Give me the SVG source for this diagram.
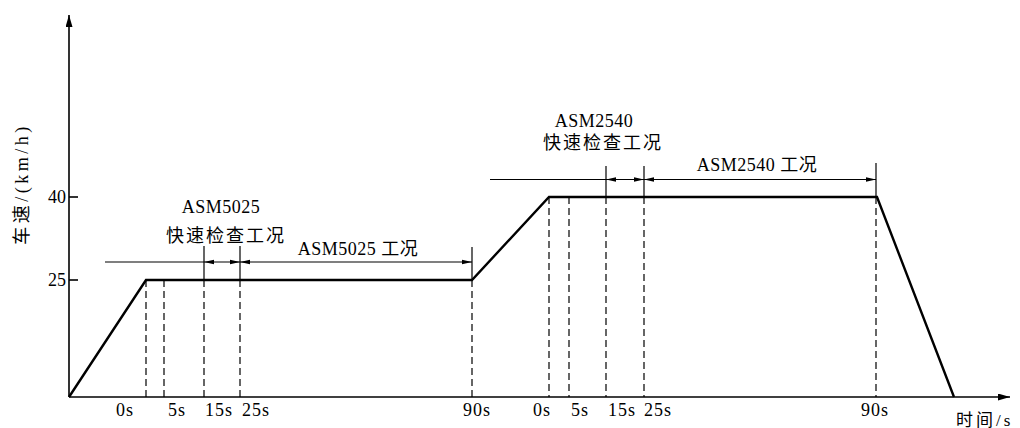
<svg xmlns="http://www.w3.org/2000/svg" width="1020" height="428" viewBox="0 0 1020 428">
<style>
.t{font-family:"Liberation Serif","Noto Sans CJK SC",serif;font-size:18px;fill:#000}
.c{font-family:"Liberation Serif","Noto Sans CJK SC",serif;font-size:18px;fill:#000}
.dash{stroke:#000;stroke-width:1.2;stroke-dasharray:7 4;fill:none}
.thin{stroke:#000;stroke-width:1.2;fill:none}
.prof{stroke:#000;stroke-width:2.4;fill:none;stroke-linejoin:miter}
.axis{stroke:#000;stroke-width:1.6;fill:none}
.dim{stroke:#000;stroke-width:1.2;fill:none;marker-start:url(#a);marker-end:url(#a)}
</style>
<defs>
<marker id="a" viewBox="0 0 10 6" refX="10" refY="3" markerWidth="10" markerHeight="6" markerUnits="userSpaceOnUse" orient="auto-start-reverse">
<path d="M0,0.8 L10,3 L0,5.2 Z" fill="#000"/>
</marker>
<marker id="ax" viewBox="0 0 12 7" refX="12" refY="3.5" markerWidth="12" markerHeight="7" markerUnits="userSpaceOnUse" orient="auto">
<path d="M0,0 L12,3.5 L0,7 Z" fill="#000"/>
</marker>
</defs>
<g id="axes">
<line class="axis" x1="69" y1="397" x2="69" y2="15" marker-end="url(#ax)"/>
<line class="axis" x1="69" y1="397" x2="1010" y2="397" marker-end="url(#ax)"/>
<line class="axis" x1="69" y1="197" x2="78" y2="197"/>
<line class="axis" x1="69" y1="280" x2="78" y2="280"/>
<text class="t" x="66" y="203" text-anchor="end">40</text>
<text class="t" x="66" y="286" text-anchor="end">25</text>
<text class="c" transform="translate(28,184) rotate(-90)" text-anchor="middle" letter-spacing="3.5">车速/(km/h)</text>
<text class="c" x="956" y="426" style="font-size:17px" letter-spacing="3">时间/s</text>
</g>
<g id="guides">
<line class="dash" x1="146" y1="280" x2="146" y2="397"/>
<line class="dash" x1="164" y1="280" x2="164" y2="397"/>
<line class="dash" x1="204" y1="280" x2="204" y2="397"/>
<line class="dash" x1="240" y1="280" x2="240" y2="397"/>
<line class="dash" x1="472" y1="280" x2="472" y2="397"/>
<line class="dash" x1="549" y1="197" x2="549" y2="397"/>
<line class="dash" x1="569" y1="197" x2="569" y2="397"/>
<line class="dash" x1="606" y1="197" x2="606" y2="397"/>
<line class="dash" x1="644" y1="197" x2="644" y2="397"/>
<line class="dash" x1="876" y1="197" x2="876" y2="397"/>
</g>
<g id="profile">
<polyline class="prof" points="69,397 146,280 472,280 549,197 877,197 954,397"/>
</g>
<g id="connectors">
<line class="thin" x1="204" y1="246" x2="204" y2="280"/>
<line class="thin" x1="240" y1="246" x2="240" y2="280"/>
<line class="thin" x1="472" y1="247" x2="472" y2="280"/>
<line class="thin" x1="105" y1="262" x2="204" y2="262"/>
<line class="dim" x1="204" y1="262" x2="240" y2="262"/>
<line class="dim" x1="240" y1="262" x2="472" y2="262"/>
<line class="thin" x1="606" y1="166" x2="606" y2="197"/>
<line class="thin" x1="644" y1="166" x2="644" y2="197"/>
<line class="thin" x1="876" y1="163" x2="876" y2="197"/>
<line class="thin" x1="490" y1="179.5" x2="606" y2="179.5"/>
<line class="dim" x1="606" y1="179.5" x2="644" y2="179.5"/>
<line class="dim" x1="644" y1="179.5" x2="876" y2="179.5"/>
</g>
<g id="labels1">
<text class="t" x="221" y="213" text-anchor="middle" letter-spacing="0.5">ASM5025</text>
<text class="c" x="226" y="242" text-anchor="middle" letter-spacing="2">快速检查工况</text>
<text class="t" x="358" y="255" text-anchor="middle" letter-spacing="0.5">ASM5025 工况</text>
</g>
<g id="labels2">
<text class="t" x="594" y="127" text-anchor="middle" letter-spacing="0.5">ASM2540</text>
<text class="c" x="603" y="149" text-anchor="middle" letter-spacing="2">快速检查工况</text>
<text class="t" x="757" y="171" text-anchor="middle" letter-spacing="0.5">ASM2540 工况</text>
</g>
<g id="ticks">
<text class="t" x="125" y="416" text-anchor="middle" letter-spacing="1">0s</text>
<text class="t" x="177" y="416" text-anchor="middle" letter-spacing="1">5s</text>
<text class="t" x="219" y="416" text-anchor="middle" letter-spacing="1">15s</text>
<text class="t" x="256" y="416" text-anchor="middle" letter-spacing="1">25s</text>
<text class="t" x="477" y="416" text-anchor="middle" letter-spacing="1">90s</text>
<text class="t" x="542" y="416" text-anchor="middle" letter-spacing="1">0s</text>
<text class="t" x="580" y="416" text-anchor="middle" letter-spacing="1">5s</text>
<text class="t" x="622" y="416" text-anchor="middle" letter-spacing="1">15s</text>
<text class="t" x="658" y="416" text-anchor="middle" letter-spacing="1">25s</text>
<text class="t" x="875" y="416" text-anchor="middle" letter-spacing="1">90s</text>
</g>
</svg>
